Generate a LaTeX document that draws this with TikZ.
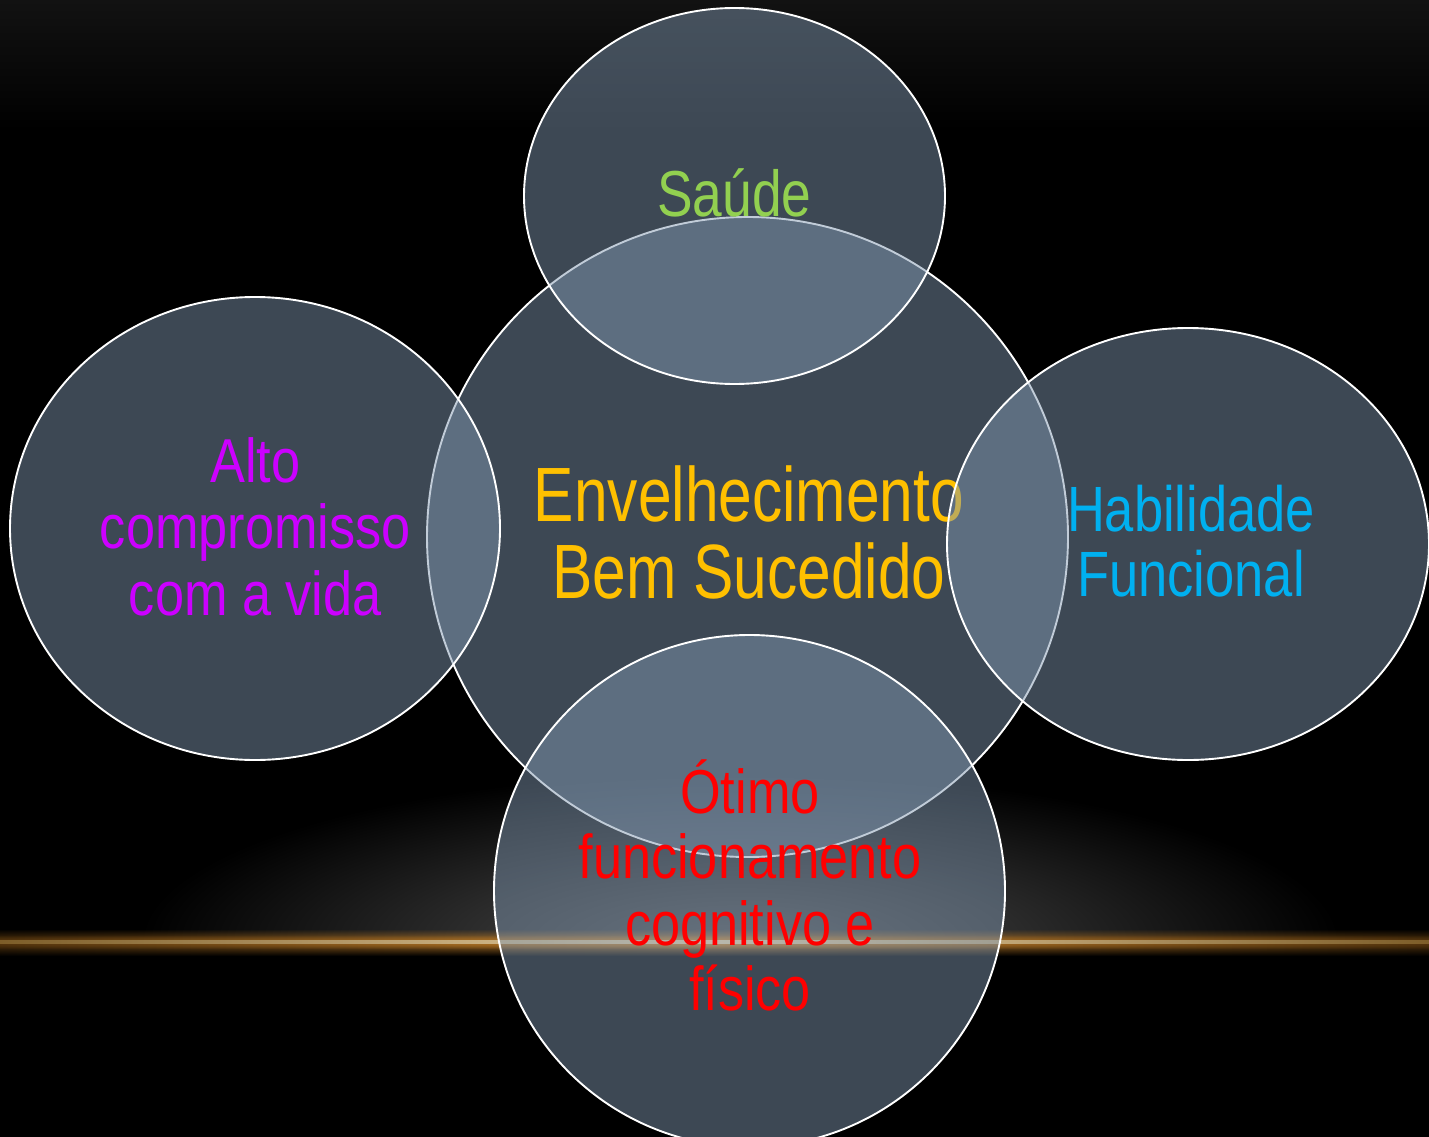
\documentclass[tikz,border=0pt]{standalone}
\usepackage{fontspec}
\setmainfont{Liberation Sans}
\newfontfamily\centersans[FakeStretch=0.785]{Liberation Sans}
\newfontfamily\narrowsans[FakeStretch=0.82]{Liberation Sans}
\newfontfamily\widesans[FakeStretch=0.843]{Liberation Sans}
\usetikzlibrary{shapes.geometric,fadings}
\tikzfading[name=fadeup, top color=transparent!100, bottom color=transparent!0]
\tikzfading[name=fadedown, top color=transparent!0, bottom color=transparent!100]
\definecolor{bubblefill}{RGB}{128,151,176}
\definecolor{topgray}{RGB}{18,18,18}
\definecolor{glowgray}{RGB}{80,80,80}
\definecolor{glowA}{RGB}{80,50,12}
\definecolor{glowB}{RGB}{205,135,45}
\definecolor{lineA}{RGB}{120,88,35}
\definecolor{lineB}{RGB}{238,215,170}
\definecolor{txtgold}{RGB}{255,192,0}
\definecolor{txtgreen}{RGB}{146,208,80}
\definecolor{txtpurple}{RGB}{204,0,255}
\definecolor{txtblue}{RGB}{0,176,240}
\definecolor{txtred}{RGB}{255,0,0}
\begin{document}
\begin{tikzpicture}[x=1pt,y=-1pt,
  bubble/.style={ellipse, draw=white, line width=1.9pt, fill=bubblefill,
    fill opacity=0.484, draw opacity=1, inner sep=0pt},
  lbl/.style={anchor=base, inner sep=0pt},
  ctext/.style={lbl, text=txtgold, font=\centersans\fontsize{77}{77}\selectfont},
  stext/.style={lbl, text=txtgreen, font=\narrowsans\fontsize{65}{66}\selectfont},
  ltext/.style={lbl, text=txtpurple, font=\widesans\fontsize{62}{66}\selectfont},
  rtext/.style={lbl, text=txtblue, font=\narrowsans\fontsize{64}{66}\selectfont},
  btext/.style={lbl, text=txtred, font=\widesans\fontsize{62}{66}\selectfont}]
% background
\fill[black] (0,0) rectangle (1429,1137);
\useasboundingbox (0,0) rectangle (1429,1137);
\shade[top color=topgray, bottom color=black] (0,0) rectangle (1429,130);
% glow above the horizon line
\begin{scope}
  \clip (0,700) rectangle (1429,942);
  \shade[inner color=glowgray, outer color=black] (740,942) ellipse [x radius=600pt, y radius=170pt];
\end{scope}
% horizon line with soft glow
\shade[left color=glowA, right color=glowA, middle color=glowB, path fading=fadeup] (-30,929) rectangle (1459,942);
\shade[left color=glowA, right color=glowA, middle color=glowB, path fading=fadedown] (-30,942) rectangle (1459,956);
\shade[left color=glowA, right color=glowA, middle color=glowB, path fading=fadeup] (-30,935) rectangle (1459,942);
\shade[left color=glowA, right color=glowA, middle color=glowB, path fading=fadedown] (-30,942) rectangle (1459,949);
\shade[left color=lineA, right color=lineA, middle color=lineB] (-30,940.3) rectangle (1459,943.7);
% central bubble
\node[bubble, minimum width=641pt, minimum height=640pt] (center) at (747.5,537) {};
\node[ctext] (c1) at (749,521.7) {Envelhecimento};
\node[ctext] (c2) at (749,598.3) {Bem Sucedido};
% outer bubbles
\node[bubble, minimum width=421pt, minimum height=376pt] (top) at (734.5,196) {};
\node[bubble, minimum width=490pt, minimum height=463pt] (left) at (255,528.5) {};
\node[bubble, minimum width=482pt, minimum height=432pt] (right) at (1188,544) {};
\node[bubble, minimum width=511pt, minimum height=512pt] (bottom) at (749.5,891) {};
% labels
\node[stext] (s1) at (734.5,216.7) {Saúde};
\node[ltext] (l1) at (255.3,482.7) {Alto};
\node[ltext] (l2) at (255.3,548) {compromisso};
\node[ltext] (l3) at (255.3,615) {com a vida};
\node[rtext] (r1) at (1191,531) {Habilidade};
\node[rtext] (r2) at (1191,596.7) {Funcional};
\node[btext] (b1) at (750,813) {Ótimo};
\node[btext] (b2) at (750,878) {funcionamento};
\node[btext] (b3) at (750,945) {cognitivo e};
\node[btext] (b4) at (750,1010) {físico};
\end{tikzpicture}
\end{document}
